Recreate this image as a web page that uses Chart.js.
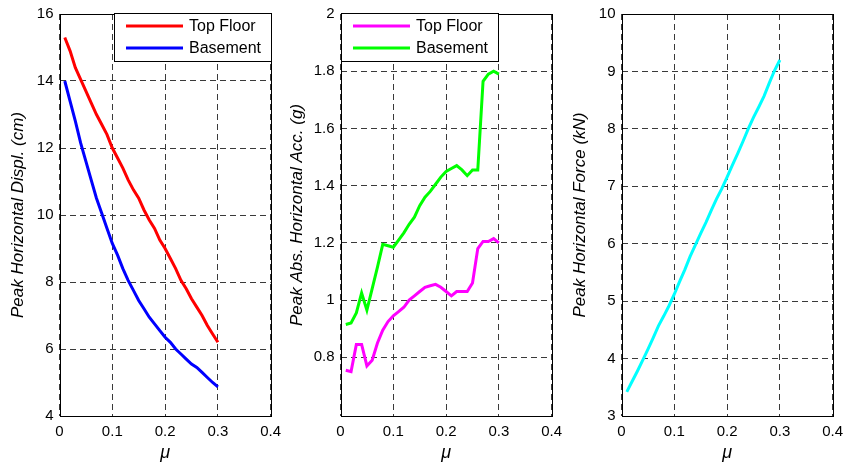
<!DOCTYPE html>
<html lang="en">
<head>
<meta charset="UTF-8">
<title>Peak response vs friction coefficient</title>
<script src="https://cdn.jsdelivr.net/npm/chart.js"></script>
<style>
    body { margin: 0; background: #fff; overflow: hidden; }
    .wrap { position: relative; width: 843px; height: 467px; }
    .wrap canvas { position: absolute; top: 0; }
</style>
</head>
<body>
<div class="wrap">
    <canvas id="displ" width="300" height="467" style="left:0"></canvas>
    <canvas id="acc" width="300" height="467" style="left:281px"></canvas>
    <canvas id="force" width="300" height="467" style="left:562px"></canvas>
</div>
<script>
    // friction coefficient
    var mu = [0.01, 0.02, 0.03, 0.04, 0.05, 0.06, 0.07, 0.08, 0.09, 0.10,
              0.11, 0.12, 0.13, 0.14, 0.15, 0.16, 0.17, 0.18, 0.19, 0.20,
              0.21, 0.22, 0.23, 0.24, 0.25, 0.26, 0.27, 0.28, 0.29, 0.30];

    // peak horizontal displacement (cm)
    var displTop = [15.3, 14.9, 14.4, 14.05, 13.7, 13.35, 13.0, 12.7, 12.4, 12.0,
                    11.7, 11.4, 11.05, 10.75, 10.5, 10.15, 9.85, 9.6, 9.25, 9.0,
                    8.7, 8.4, 8.05, 7.8, 7.5, 7.25, 7.0, 6.7, 6.45, 6.2];
    var displBase = [14.0, 13.4, 12.8, 12.15, 11.6, 11.05, 10.5, 10.05, 9.6, 9.15,
                     8.8, 8.4, 8.05, 7.75, 7.45, 7.2, 6.95, 6.75, 6.55, 6.35,
                     6.2, 6.0, 5.85, 5.7, 5.55, 5.45, 5.3, 5.15, 5.0, 4.87];

    // peak absolute horizontal acceleration (g)
    var accTop = [0.755, 0.75, 0.845, 0.845, 0.77, 0.79, 0.85, 0.895, 0.925, 0.945,
                  0.96, 0.975, 1.0, 1.015, 1.03, 1.045, 1.05, 1.055, 1.045, 1.03,
                  1.015, 1.03, 1.03, 1.03, 1.06, 1.18, 1.205, 1.205, 1.215, 1.2];
    var accBase = [0.915, 0.92, 0.955, 1.025, 0.965, 1.04, 1.115, 1.195, 1.19, 1.185,
                   1.21, 1.235, 1.265, 1.29, 1.33, 1.36, 1.38, 1.405, 1.43, 1.45,
                   1.46, 1.47, 1.455, 1.435, 1.455, 1.455, 1.765, 1.79, 1.80, 1.79];

    // peak horizontal force (kN)
    var force = [3.42, 3.6, 3.78, 3.97, 4.16, 4.36, 4.57, 4.74, 4.92, 5.12,
                 5.34, 5.55, 5.78, 5.98, 6.18, 6.37, 6.58, 6.78, 6.96, 7.16,
                 7.37, 7.57, 7.78, 8.0, 8.2, 8.38, 8.57, 8.8, 9.02, 9.2];

    var xTicks = [0, 0.1, 0.2, 0.3, 0.4];
    var displTicks = [4, 6, 8, 10, 12, 14, 16];
    var accTicks = [0.8, 1, 1.2, 1.4, 1.6, 1.8, 2];
    var forceTicks = [3, 4, 5, 6, 7, 8, 9, 10];

    var FONT = '"Liberation Sans", Arial, sans-serif';

    function series(label, ys, color) {
        return {
            label: label,
            data: mu.map(function (m, i) { return { x: m, y: ys[i] }; }),
            borderColor: color,
            backgroundColor: color
        };
    }

    // box round the plot area, and the legend drawn inside it
    var framePlugin = {
        id: 'frame',
        afterDatasetsDraw: function (chart, args, opts) {
            var a = chart.chartArea, ctx = chart.ctx;
            ctx.save();
            ctx.strokeStyle = '#000';
            ctx.lineWidth = 1;
            ctx.setLineDash([]);
            ctx.strokeRect(Math.round(a.left) + 0.5, Math.round(a.top) + 0.5,
                           Math.round(a.right - a.left), Math.round(a.bottom - a.top));
            if (opts.legend) {
                var w = 157, h = 48;
                var x = opts.legend === 'right' ? Math.round(a.right) - w : Math.round(a.left);
                var y = Math.round(a.top) - 1;
                ctx.fillStyle = '#fff';
                ctx.fillRect(x, y, w, h);
                ctx.strokeRect(x + 0.5, y + 0.5, w, h);
                ctx.font = '16px ' + FONT;
                ctx.textBaseline = 'middle';
                chart.data.datasets.forEach(function (ds, i) {
                    var ry = y + 13 + i * 22;
                    ctx.strokeStyle = ds.borderColor;
                    ctx.lineWidth = 3;
                    ctx.beginPath();
                    ctx.moveTo(x + 12, ry);
                    ctx.lineTo(x + 69, ry);
                    ctx.stroke();
                    ctx.fillStyle = '#000';
                    ctx.fillText(ds.label, x + 75, ry + 1);
                });
            }
            ctx.restore();
        }
    };

    function makeChart(id, datasets, yMin, yMax, yTicks, yTitle, titlePad, legendSide) {
        return new Chart(document.getElementById(id), {
            type: 'line',
            data: { datasets: datasets },
            plugins: [framePlugin],
            options: {
                responsive: false,
                animation: false,
                layout: { padding: { top: 14, right: 29.3, left: 0, bottom: 0 } },
                elements: {
                    point: { radius: 0 },
                    line: { borderWidth: 3, tension: 0 }
                },
                plugins: {
                    legend: { display: false },
                    tooltip: { enabled: false },
                    frame: { legend: legendSide }
                },
                scales: {
                    x: {
                        type: 'linear',
                        min: 0,
                        max: 0.4,
                        afterBuildTicks: function (s) {
                            s.ticks = xTicks.map(function (v) { return { value: v }; });
                        },
                        afterFit: function (s) {
                            s.height = 51;
                            s.paddingLeft = 0;
                            s.paddingRight = 0;
                        },
                        ticks: {
                            padding: 7,
                            color: '#000',
                            font: { family: FONT, size: 15 },
                            callback: function (v) { return String(v); }
                        },
                        grid: { color: '#3a3a3a', lineWidth: 1, drawTicks: false },
                        border: { display: false, dash: [6, 4] },
                        title: {
                            display: true,
                            text: 'μ',
                            color: '#000',
                            font: { family: FONT, size: 18, style: 'italic' },
                            padding: { top: 0, bottom: 3 }
                        }
                    },
                    y: {
                        min: yMin,
                        max: yMax,
                        afterBuildTicks: function (s) {
                            s.ticks = yTicks.map(function (v) { return { value: v }; });
                        },
                        afterFit: function (s) {
                            s.width = 59.5;
                            s.paddingTop = 0;
                            s.paddingBottom = 0;
                        },
                        ticks: {
                            padding: 6,
                            color: '#000',
                            font: { family: FONT, size: 15 },
                            callback: function (v) { return String(v); }
                        },
                        grid: { color: '#3a3a3a', lineWidth: 1, drawTicks: false },
                        border: { display: false, dash: [6, 4] },
                        title: {
                            display: true,
                            text: yTitle,
                            color: '#000',
                            font: { family: FONT, size: 17, style: 'italic' },
                            padding: { top: titlePad, bottom: 0 }
                        }
                    }
                }
            }
        });
    }

    makeChart('displ', [
        series('Top Floor', displTop, '#ff0000'),
        series('Basement', displBase, '#0000ff')
    ], 4, 16, displTicks, 'Peak Horizontal Displ. (cm)', 8, 'right');

    makeChart('acc', [
        series('Top Floor', accTop, '#ff00ff'),
        series('Basement', accBase, '#00ff00')
    ], 0.595, 2, accTicks, 'Peak Abs. Horizontal Acc. (g)', 6, 'left');

    makeChart('force', [
        series('Peak Force', force, '#00ffff')
    ], 3, 10, forceTicks, 'Peak Horizontal Force (kN)', 8, false);
</script>
</body>
</html>
